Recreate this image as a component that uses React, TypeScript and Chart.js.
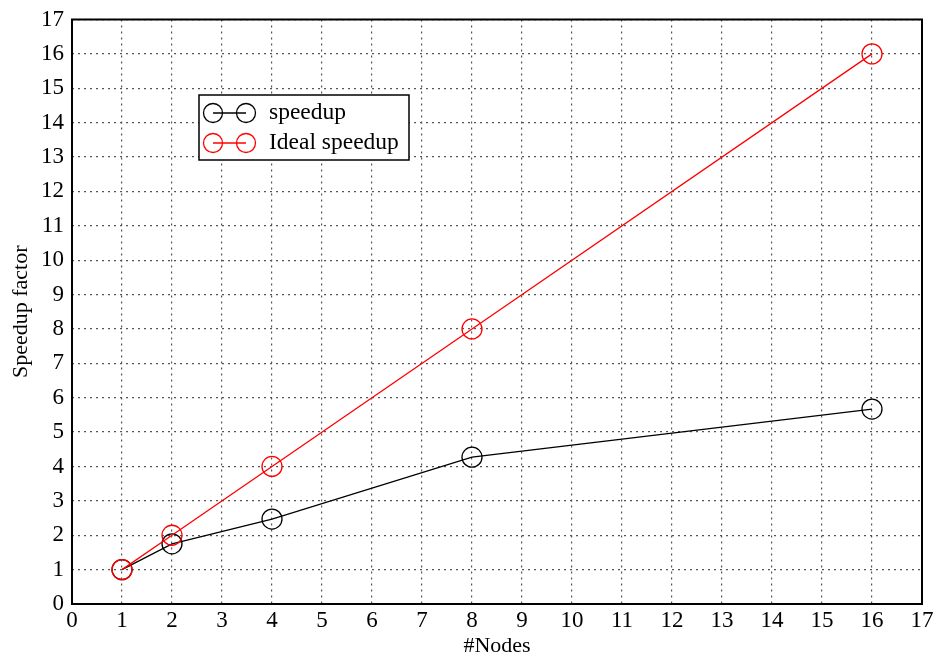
import React, { useEffect, useRef } from "react";
import { Chart, registerables } from "chart.js";

Chart.register(...registerables);

const nodes = [1, 2, 4, 8, 16];
const speedup = [1, 1.75, 2.47, 4.27, 5.67];
const idealSpeedup = [1, 2, 4, 8, 16];
const seriesLabels = ["speedup", "Ideal speedup"];
const seriesColors = ["#000000", "#ff0000"];
const xTitle = "#Nodes";
const yTitle = "Speedup factor";

const FONT = "'Liberation Serif', 'DejaVu Serif', serif";

const framePlugin = {
  id: "frame",
  afterDraw(chart: any) {
    const { ctx, chartArea } = chart;
    ctx.save();
    ctx.strokeStyle = "#000";
    ctx.lineWidth = 2;
    ctx.strokeRect(chartArea.left, chartArea.top, chartArea.right - chartArea.left, chartArea.bottom - chartArea.top);
    ctx.restore();
  },
};

const legendPlugin = {
  id: "insideLegend",
  afterDraw(chart: any) {
    const { ctx } = chart;
    const x0 = 199, y0 = 95, w = 210, h = 65;
    ctx.save();
    ctx.fillStyle = "#fff";
    ctx.fillRect(x0, y0, w, h);
    ctx.strokeStyle = "#000";
    ctx.lineWidth = 1.5;
    ctx.strokeRect(x0, y0, w, h);
    chart.data.datasets.forEach((ds: any, i: number) => {
      const cy = y0 + 18 + i * 30;
      ctx.strokeStyle = ds.borderColor;
      ctx.lineWidth = 1.3;
      ctx.beginPath();
      ctx.moveTo(213, cy);
      ctx.lineTo(246, cy);
      ctx.stroke();
      [213, 246].forEach((cx) => {
        ctx.beginPath();
        ctx.arc(cx, cy, 9.5, 0, Math.PI * 2);
        ctx.stroke();
      });
      ctx.fillStyle = "#000";
      ctx.font = `23.5px ${FONT}`;
      ctx.textBaseline = "middle";
      ctx.textAlign = "left";
      ctx.fillText(ds.label, 269, cy);
    });
    ctx.restore();
  },
};

export default function App() {
  const ref = useRef<HTMLCanvasElement>(null);
  useEffect(() => {
    document.body.style.margin = "0";
    const series = [speedup, idealSpeedup];
    const chart = new Chart(ref.current!, {
      type: "line",
      data: {
        datasets: series.map((vals, i) => ({
          label: seriesLabels[i],
          data: nodes.map((n, j) => ({ x: n, y: vals[j] })),
          borderColor: seriesColors[i],
          backgroundColor: "rgba(0,0,0,0)",
          borderWidth: 1.3,
          pointRadius: 10,
          pointBorderWidth: 1.3,
          pointBackgroundColor: "rgba(0,0,0,0)",
          pointBorderColor: seriesColors[i],
          tension: 0,
          order: i === 0 ? 1 : 0,
        })),
      },
      options: {
        animation: false,
        responsive: false,
        layout: { padding: { left: 0, right: 16, top: 18, bottom: 0 } },
        plugins: { legend: { display: false }, tooltip: { enabled: false } },
        scales: {
          x: {
            type: "linear",
            min: 0,
            max: 17,
            ticks: { stepSize: 1, color: "#000", font: { family: FONT, size: 23 }, padding: 3, maxRotation: 0 },
            grid: { color: "#555", drawTicks: false, lineWidth: 1.2 },
            border: { display: false, dash: [2, 4] },
            title: { display: true, text: xTitle, color: "#000", font: { family: FONT, size: 22 }, padding: 0 },
            afterFit(scale: any) { scale.height = 55; },
          },
          y: {
            type: "linear",
            min: 0,
            max: 17,
            ticks: { stepSize: 1, color: "#000", font: { family: FONT, size: 23, lineHeight: 1 }, padding: 8 },
            grid: { color: "#555", drawTicks: false, lineWidth: 1.2 },
            border: { display: false, dash: [2, 4] },
            title: { display: true, text: yTitle, color: "#000", font: { family: FONT, size: 22 }, padding: { top: 8, bottom: 0 } },
            afterFit(scale: any) { scale.width = 72; },
          },
        },
      },
      plugins: [framePlugin, legendPlugin],
    } as any);
    return () => chart.destroy();
  }, []);
  return <canvas ref={ref} width={938} height={659} style={{ display: "block" }} />;
}
